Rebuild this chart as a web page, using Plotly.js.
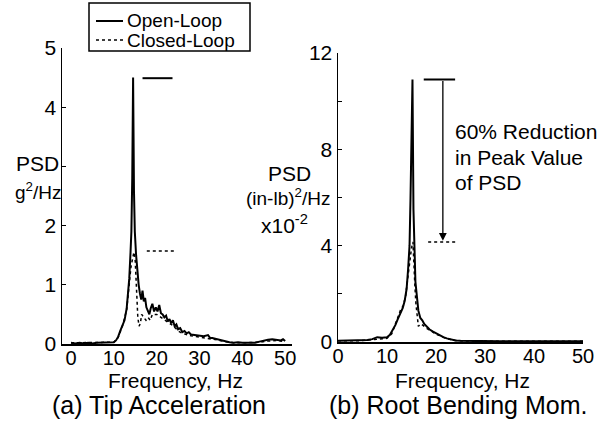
<!DOCTYPE html>
<html><head><meta charset="utf-8">
<script src="https://cdn.plot.ly/plotly-3.0.1.min.js"></script>
<style>html,body{margin:0;padding:0;background:#fff;}#chart{width:611px;height:428px;}</style>
</head><body><div id="chart"></div>
<script>
// (a) Tip Acceleration, open loop
const freqTipOpen = [0,1,2,3,4,5,6,7,8,9,10,10.5,11,11.5,12,12.5,13,13.3,13.6,13.9,14.1,14.3,14.5,14.7,14.9,15.2,15.5,15.8,16.1,16.4,16.7,17,17.3,17.6,18,18.3,18.6,19,19.4,19.8,20.2,20.6,21,21.4,21.8,22.2,22.6,23,23.4,23.8,24.2,24.6,25,25.5,26,26.5,27,27.5,28,29,30,31,32,32.5,33,34,35,36,37,38,39,40,41,42,43,44,45,46,47,48,49,49.5,50];
const psdTipOpen  = [0.02,0.01,0.02,0.01,0.02,0.01,0.02,0.02,0.03,0.02,0.03,0.06,0.12,0.22,0.33,0.4,0.6,0.85,1.1,1.55,1.9,2.8,4.5,2.6,1.9,1.5,1.2,1.0,0.85,0.75,0.9,0.72,0.78,0.62,0.55,0.5,0.6,0.68,0.55,0.62,0.55,0.66,0.52,0.5,0.45,0.48,0.38,0.42,0.35,0.4,0.3,0.33,0.25,0.27,0.2,0.22,0.18,0.2,0.16,0.15,0.14,0.13,0.15,0.1,0.1,0.08,0.06,0.04,0.03,0.02,0.03,0.02,0.02,0.03,0.02,0.04,0.06,0.07,0.08,0.07,0.06,0.08,0.05];
// (a) Tip Acceleration, closed loop
const freqTipClosed = [0,2,4,6,8,10,11,12,13,13.6,14,14.4,14.7,15,15.3,15.6,15.9,16.2,16.5,17,17.5,18,18.5,19,20,21,22,23,24,25,26,28,30,32,34,36,38,40,44,46,48,50];
const psdTipClosed  = [0.02,0.02,0.02,0.02,0.03,0.03,0.11,0.3,0.58,1.0,1.3,1.45,1.55,1.4,0.9,0.45,0.3,0.35,0.5,0.45,0.4,0.45,0.4,0.5,0.5,0.45,0.4,0.35,0.3,0.22,0.18,0.14,0.12,0.1,0.07,0.04,0.02,0.02,0.03,0.05,0.06,0.04];
// (b) Root Bending Moment (x10^-2), open loop
const freqRootOpen = [0,2,4,6,7,8,9,10,10.6,11.2,11.7,12.2,12.7,13.2,13.6,14,14.3,14.6,14.8,15.2,15.4,15.6,15.8,16.1,16.4,16.8,17.2,17.6,18.1,18.7,19.4,20.1,20.8,21.5,22.2,23,24,25,27,30,33,36,40,45,50];
const psdRootOpen  = [0.05,0.05,0.06,0.08,0.12,0.2,0.18,0.2,0.3,0.5,0.7,0.95,1.2,1.4,1.7,2.2,3.0,4.0,6.0,10.9,5.5,3.2,2.5,1.9,1.3,1.0,0.9,0.75,0.63,0.52,0.43,0.35,0.28,0.2,0.15,0.1,0.06,0.05,0.04,0.04,0.03,0.03,0.04,0.03,0.03];
// (b) Root Bending Moment (x10^-2), closed loop
const freqRootClosed = [0,4,8,10,11,11.7,12.3,12.8,13.3,13.8,14.2,14.6,15,15.3,15.5,15.7,15.9,16.1,16.4,16.8,17.3,18,19,20,21,22,23,24,26,30,40,50];
const psdRootClosed  = [0.05,0.05,0.12,0.15,0.35,0.75,1.1,1.35,1.5,1.9,2.6,3.3,3.9,4.15,3.0,2.3,1.6,1.1,0.65,0.75,0.7,0.58,0.45,0.33,0.24,0.15,0.1,0.06,0.04,0.03,0.03,0.03];

const xTicks = [0,10,20,30,40,50];
const yTicksTip = [0,1,2,3,4,5];
const yTextTip = ['0','1','2','','4','5'];
const yTicksRoot = [0,2,4,6,8,10,12];
const yTextRoot = ['0','','4','','8','','12'];
const legendNames = ['Open-Loop','Closed-Loop'];
const noteLines = ['60% Reduction','in Peak Value','of PSD'];

const FONT = 'Liberation Sans, Arial, Helvetica, sans-serif';
const solid = {color:'black', width:2};
const dotted = {color:'black', width:1.5, dash:'dot'};

const traces = [
  {x:freqTipOpen, y:psdTipOpen, xaxis:'x', yaxis:'y', mode:'lines', line:solid, name:legendNames[0]},
  {x:freqTipClosed, y:psdTipClosed, xaxis:'x', yaxis:'y', mode:'lines', line:dotted, name:legendNames[1]},
  {x:freqRootOpen, y:psdRootOpen, xaxis:'x2', yaxis:'y2', mode:'lines', line:solid, name:legendNames[0]},
  {x:freqRootClosed, y:psdRootClosed, xaxis:'x2', yaxis:'y2', mode:'lines', line:dotted, name:legendNames[1]}
];

const axX = {
  showline:true, linecolor:'black', linewidth:1.5, showgrid:false, zeroline:false,
  tickvals:xTicks, ticks:'', ticklabelstandoff:-5, tickfont:{family:FONT,size:20,color:'black'}
};
const axY = {
  showline:true, linecolor:'black', linewidth:1.5, showgrid:false, zeroline:false,
  ticks:'inside', ticklen:4, tickcolor:'black', tickfont:{family:FONT,size:21,color:'black'}
};

const P = (px) => px/611;
const Q = (py) => 1 - py/428;
const txt = (x, y, text, size, xa) => ({xref:'paper', yref:'paper', x:P(x), y:Q(y), xanchor:xa||'center', yanchor:'middle',
  showarrow:false, text:text, font:{family:FONT,size:size,color:'black'}});

const layout = {
  width:611, height:428, margin:{l:0,r:0,t:0,b:0},
  paper_bgcolor:'white', plot_bgcolor:'white',
  font:{family:FONT, color:'black'},
  showlegend:false,
  xaxis:Object.assign({}, axX, {domain:[P(62),P(292)], range:[-2.1,51.6], anchor:'y'}),
  yaxis:Object.assign({}, axY, {domain:[Q(344),Q(48)], range:[0,5], tickvals:yTicksTip, ticktext:yTextTip, anchor:'x'}),
  xaxis2:Object.assign({}, axX, {domain:[P(338),P(583)], range:[0,50], anchor:'y2'}),
  yaxis2:Object.assign({}, axY, {domain:[Q(342),Q(53)], range:[0,12], tickvals:yTicksRoot, ticktext:yTextRoot, anchor:'x2'}),
  shapes:[
    // legend box and samples
    {type:'rect', xref:'paper', yref:'paper', x0:P(89), x1:P(250), y0:Q(51), y1:Q(3), line:{color:'black', width:1.5}, fillcolor:'white'},
    {type:'line', xref:'paper', yref:'paper', x0:P(96), x1:P(123), y0:Q(21), y1:Q(21), line:solid},
    {type:'line', xref:'paper', yref:'paper', x0:P(96), x1:P(123), y0:Q(40), y1:Q(40), line:dotted},
    // peak markers
    {type:'line', xref:'x', yref:'y', x0:16.7, x1:23.7, y0:4.49, y1:4.49, line:{color:'black', width:2}},
    {type:'line', xref:'x', yref:'y', x0:17.7, x1:24.6, y0:1.57, y1:1.57, line:{color:'black', width:1.5, dash:'dot'}},
    {type:'line', xref:'x2', yref:'y2', x0:17.5, x1:23.9, y0:10.9, y1:10.9, line:{color:'black', width:2}},
    {type:'line', xref:'x2', yref:'y2', x0:18.4, x1:24.5, y0:4.15, y1:4.15, line:{color:'black', width:1.5, dash:'dot'}}
  ],
  annotations:[
    {xref:'x2', yref:'y2', x:21.4, y:4.2, ax:21.4, ay:10.9, axref:'x2', ayref:'y2', showarrow:true, arrowhead:2, arrowsize:1.2, arrowwidth:1.3, arrowcolor:'black', text:''},
    txt(125, 20, legendNames[0], 19, 'left'),
    txt(125, 40.5, legendNames[1], 19, 'left'),
    txt(453, 132, noteLines[0], 21, 'left'),
    txt(453, 157, noteLines[1], 21, 'left'),
    txt(453, 182, noteLines[2], 21, 'left'),
    txt(37, 164, 'PSD', 21),
    txt(38, 191, 'g<sup>2</sup>/Hz', 19),
    txt(289, 173, 'PSD', 21),
    txt(288, 197, '(in-lb)<sup>2</sup>/Hz', 19),
    txt(284, 224, 'x10<sup>-2</sup>', 21),
    txt(175, 380, 'Frequency, Hz', 21),
    txt(462, 380, 'Frequency, Hz', 21),
    txt(159, 405, '(a) Tip Acceleration', 25),
    txt(458, 405, '(b) Root Bending Mom.', 25)
  ]
};

Plotly.newPlot('chart', traces, layout, {staticPlot:true, displayModeBar:false});
</script></body></html>
